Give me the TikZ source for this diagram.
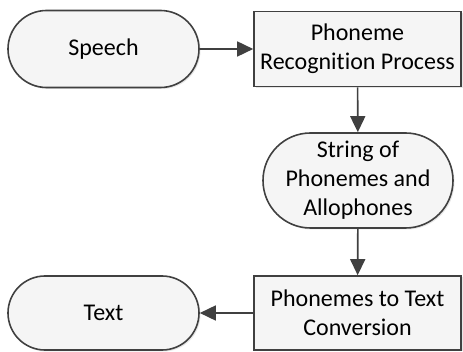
\documentclass[tikz,border=0pt]{standalone}
\usepackage{fontspec}
\setmainfont{Carlito}[Ligatures={NoCommon}]
\usetikzlibrary{arrows.meta,shapes.misc,shadows}
\definecolor{edge}{HTML}{404040}
\definecolor{boxfill}{HTML}{F5F5F5}
\tikzset{
  base/.style={draw=edge, line width=1.6pt, fill=boxfill, align=center,
    font=\fontsize{24}{29}\selectfont, inner sep=0pt,
    drop shadow={shadow xshift=1.5pt, shadow yshift=-1.5pt, opacity=0.2, fill=gray}},
  pill/.style={base, rounded rectangle, minimum width=191pt},
  proc/.style={base, rectangle, minimum width=207pt},
  flow/.style={draw=edge, line width=1.6pt, -{Triangle[length=16pt,width=15pt]}}
}
\begin{document}
\begin{tikzpicture}[x=1pt,y=-1pt]
  \useasboundingbox (0,0) rectangle (463,352);
  \node[pill, minimum height=77pt] (speech) at (103.5,49) {Speech};
  \node[proc, minimum height=75pt] (recog) at (357.5,49) {Phoneme\\Recognition Process};
  \node[pill, minimum width=190pt, minimum height=95pt] (string) at (358,180.5) {String of\\Phonemes and\\Allophones};
  \node[proc, minimum height=74pt] (conv) at (357.5,313) {Phonemes to Text\\Conversion};
  \node[pill, minimum height=74pt] (text) at (103.5,313) {Text};
  \draw[flow] (speech) -- (recog);
  \draw[flow] (recog) -- (string);
  \draw[flow] (string) -- (conv);
  \draw[flow] (conv) -- (text);
\end{tikzpicture}
\end{document}
